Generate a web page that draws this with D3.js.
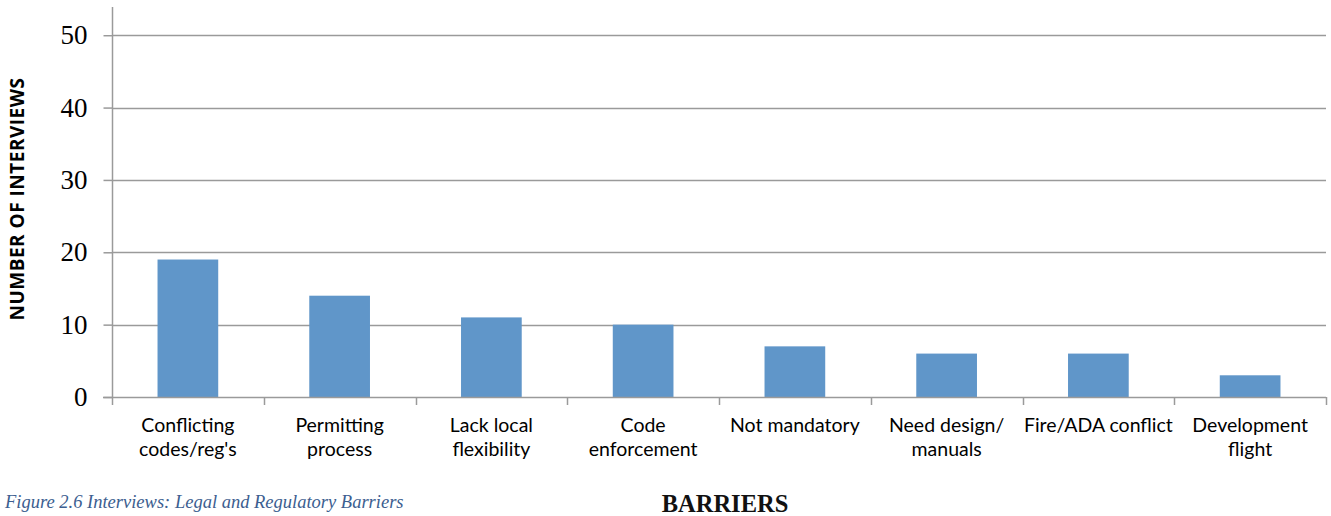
<!DOCTYPE html>
<html>
<head>
<meta charset="utf-8">
<script src="https://cdn.jsdelivr.net/npm/d3@7"></script>
<style>
  body { margin: 0; background: #fff; }
</style>
</head>
<body>
<div id="chart"></div>
<script>
// chart data
var categories = ["Conflicting codes/reg's", "Permitting process", "Lack local flexibility",
                  "Code enforcement", "Not mandatory", "Need design/ manuals",
                  "Fire/ADA conflict", "Development flight"];
// how each label wraps onto lines
var labelLines = [["Conflicting", "codes/reg's"], ["Permitting", "process"], ["Lack local", "flexibility"],
                  ["Code", "enforcement"], ["Not mandatory"], ["Need design/", "manuals"],
                  ["Fire/ADA conflict"], ["Development", "flight"]];
var interviews = [19, 14, 11, 10, 7, 6, 6, 3];
var yTicks = [0, 10, 20, 30, 40, 50];

var w = 1331, h = 516;
var margin = {left: 112, right: 5, top: 7, bottom: 119};

var svg = d3.select("#chart").append("svg")
    .attr("width", w)
    .attr("height", h);

var x = d3.scaleBand()
    .domain(categories)
    .range([margin.left, w - margin.right])
    .paddingInner(0.6)
    .paddingOuter(0.3);

var y = d3.scaleLinear()
    .domain([0, 53.9])
    .range([h - margin.bottom, margin.top]);

var gridColor = "#9a9a9a";

// gridlines
svg.append("g")
    .selectAll("line")
    .data(yTicks.slice(1))
    .enter()
    .append("line")
    .attr("x1", margin.left)
    .attr("x2", w - margin.right)
    .attr("y1", function(d) { return Math.round(y(d)) + 0.5; })
    .attr("y2", function(d) { return Math.round(y(d)) + 0.5; })
    .attr("stroke", gridColor)
    .attr("stroke-width", 1.5);

// bars
svg.append("g")
    .selectAll("rect")
    .data(interviews)
    .enter()
    .append("rect")
    .attr("x", function(d, i) { return x(categories[i]); })
    .attr("width", x.bandwidth())
    .attr("y", function(d) { return y(d); })
    .attr("height", function(d) { return y(0) - y(d); })
    .attr("fill", "#6096c9");

// y axis
var yAxis = d3.axisLeft(y)
    .tickValues(yTicks)
    .tickSize(9)
    .tickPadding(16)
    .tickFormat(d3.format("d"));

var gy = svg.append("g")
    .attr("transform", "translate(" + (margin.left + 0.5) + ",0)")
    .call(yAxis);
gy.select(".domain").remove();
gy.append("line")
    .attr("y1", margin.top)
    .attr("y2", y(0))
    .attr("stroke", gridColor)
    .attr("stroke-width", 1.5);
gy.selectAll(".tick line").attr("stroke", gridColor).attr("stroke-width", 1.5);
gy.selectAll(".tick text")
    .attr("fill", "#000")
    .style("font-family", "'Liberation Serif', serif")
    .style("font-size", "27px");

// x axis: baseline and category separators
var step = x.step();
var xEdges = d3.range(categories.length + 1).map(function(i) { return margin.left + i * step; });
var gx = svg.append("g");
gx.append("line")
    .attr("x1", margin.left - 9)
    .attr("x2", w - margin.right)
    .attr("y1", Math.round(y(0)) + 0.5)
    .attr("y2", Math.round(y(0)) + 0.5)
    .attr("stroke", gridColor)
    .attr("stroke-width", 1.5);
gx.selectAll("line.sep")
    .data(xEdges)
    .enter()
    .append("line")
    .attr("class", "sep")
    .attr("x1", function(d) { return Math.round(d) + 0.5; })
    .attr("x2", function(d) { return Math.round(d) + 0.5; })
    .attr("y1", y(0))
    .attr("y2", y(0) + 8)
    .attr("stroke", gridColor)
    .attr("stroke-width", 1.5);

// category labels
gx.selectAll("text.cat")
    .data(categories)
    .enter()
    .append("text")
    .attr("class", "cat")
    .attr("x", function(d) { return x(d) + x.bandwidth() / 2; })
    .attr("y", 432)
    .attr("text-anchor", "middle")
    .style("font-family", "Lato, sans-serif")
    .style("font-size", "19.5px")
    .attr("fill", "#000")
    .each(function(d, i) {
        var t = d3.select(this);
        labelLines[i].forEach(function(line, j) {
            t.append("tspan")
                .attr("x", x(d) + x.bandwidth() / 2)
                .attr("dy", j === 0 ? 0 : 24)
                .text(line);
        });
    });

// y axis title
svg.append("text")
    .attr("transform", "translate(24,199) rotate(-90)")
    .attr("text-anchor", "middle")
    .style("font-family", "'Open Sans', sans-serif")
    .style("font-weight", "bold")
    .style("font-size", "19px")
    .style("letter-spacing", "0.5px")
    .attr("fill", "#000")
    .text("NUMBER OF INTERVIEWS");

// x axis title
svg.append("text")
    .attr("x", 725)
    .attr("y", 512)
    .attr("text-anchor", "middle")
    .style("font-family", "'Liberation Serif', serif")
    .style("font-weight", "bold")
    .style("font-size", "24.5px")
    .attr("fill", "#111")
    .text("BARRIERS");

// caption
svg.append("text")
    .attr("x", 5)
    .attr("y", 508)
    .style("font-family", "'Liberation Serif', serif")
    .style("font-style", "italic")
    .style("font-size", "18.5px")
    .attr("fill", "#3c5e90")
    .text("Figure 2.6 Interviews: Legal and Regulatory Barriers");
</script>
</body>
</html>
